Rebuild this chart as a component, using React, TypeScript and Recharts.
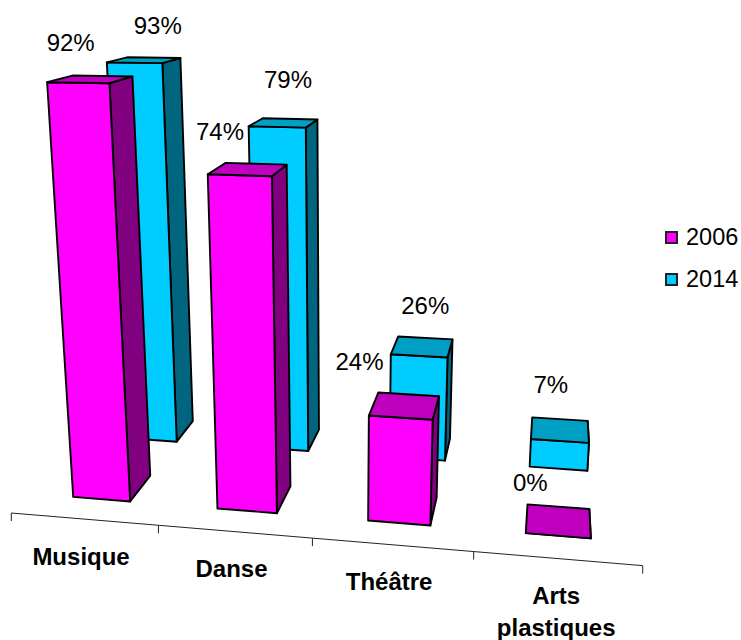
import { BarChart, Bar, XAxis, YAxis, Legend } from 'recharts';

const CATEGORIES = ['Musique', 'Danse', 'Théâtre', 'Arts plastiques'];
const VALUES_2006 = [92, 74, 24, 0];
const VALUES_2014 = [93, 79, 26, 7];

// label nudges from the top of each bar, [dx, dy] in pixels
const LABEL_NUDGE_2006 = [[-32, -33], [-36, -32], [-49, -33], [-28, -24]];
const LABEL_NUDGE_2014 = [[4, -32], [-2, -39], [0, -32], [-9, -35]];

const data = CATEGORIES.map((name, i) => ({ name, v2006: VALUES_2006[i], v2014: VALUES_2014[i] }));

const WIDTH = 741;
const HEIGHT = 640;
const AXIS_H = 40;
const BAND = 180;
const BAR_NUDGE = 1;
const PLOT_W = BAND * CATEGORIES.length;
const PLOT_H = HEIGHT - AXIS_H;
const FONT = '"Liberation Sans", Arial, sans-serif';

// camera: origin on screen plus one vanishing point for each world axis
const ORIGIN = [11.3, 513];
const VP_X = [-6500, -30];
const VP_Y = [340, 4740];
const VP_Z = [560, -50];
const LAMBDA_X = -0.0221;
const LAMBDA_Y = -0.000996;

// x in categories, y in percent, z in depth units
const project = (x: number, y: number, z: number) => {
  const wx = LAMBDA_X * x;
  const wy = LAMBDA_Y * y;
  const w = 1 + wx + wy + z;
  return [
    (ORIGIN[0] + wx * VP_X[0] + wy * VP_Y[0] + z * VP_Z[0]) / w,
    (ORIGIN[1] + wx * VP_X[1] + wy * VP_Y[1] + z * VP_Z[1]) / w,
  ];
};

const pts = (list: number[][]) => list.map(p => `${p[0]},${p[1]}`).join(' ');

const edge = { stroke: '#000', strokeWidth: 1.9, strokeLinejoin: 'round' as const };

const makeShape = (
  zFront: number,
  zBack: number,
  side: string,
  top: string,
  nudges: number[][],
) => (props: any) => {
  const { x, y, width, height, fill, index, value } = props;
  const x0 = (x + BAR_NUDGE) / BAND;
  const x1 = (x + width + BAR_NUDGE) / BAND;
  const base = (y + height - PLOT_H) / PLOT_H * -100;
  const val = (PLOT_H - y) / PLOT_H * 100;
  const frontFace = [project(x0, val, zFront), project(x1, val, zFront), project(x1, base, zFront), project(x0, base, zFront)];
  const sideFace = [project(x1, val, zFront), project(x1, val, zBack), project(x1, base, zBack), project(x1, base, zFront)];
  const topFace = [project(x0, val, zFront), project(x1, val, zFront), project(x1, val, zBack), project(x0, val, zBack)];
  const anchor = project((x0 + x1) / 2, val, zBack);
  const nudge = nudges[index];
  return (
    <g>
      <polygon points={pts(sideFace)} fill={side} {...edge} />
      <polygon points={pts(frontFace)} fill={fill} {...edge} />
      <polygon points={pts(topFace)} fill={top} {...edge} />
      <text
        x={anchor[0] + nudge[0]}
        y={anchor[1] + nudge[1]}
        textAnchor="middle"
        dominantBaseline="central"
        fontFamily={FONT}
        fontSize={24}
        fill="#000"
      >
        {value}%
      </text>
    </g>
  );
};

const AxisTick = (props: any) => {
  const { payload, index } = props;
  const left = payload.coordinate / BAND - 0.5;
  const a = project(left, 0, 0);
  const b = project(left + 1, 0, 0);
  const mid = project(left + 0.5, 0, 0);
  const lines = String(payload.value).split(' ');
  const shift = lines.length > 1 ? -1 : -3;
  return (
    <g>
      <line x1={a[0]} y1={a[1]} x2={b[0]} y2={b[1]} stroke="#222" strokeWidth={1} />
      <line x1={a[0]} y1={a[1]} x2={a[0]} y2={a[1] + 8} stroke="#222" strokeWidth={1} />
      {index === CATEGORIES.length - 1 && (
        <line x1={b[0]} y1={b[1]} x2={b[0]} y2={b[1] + 8} stroke="#222" strokeWidth={1} />
      )}
      {lines.map((line, i) => (
        <text
          key={line}
          x={mid[0] + shift}
          y={mid[1] + 37 + i * 32}
          textAnchor="middle"
          dominantBaseline="central"
          fontFamily={FONT}
          fontSize={24}
          fontWeight="bold"
          fill="#000"
        >
          {line}
        </text>
      ))}
    </g>
  );
};

const LegendBox = ({ payload }: any) => (
  <div style={{ fontFamily: FONT, fontSize: 23.5, color: '#000' }}>
    {[...(payload || [])]
      .sort((a: any, b: any) => String(a.value).localeCompare(String(b.value)))
      .map((item: any) => (
        <div key={item.value} style={{ display: 'flex', alignItems: 'center', height: 42 }}>
          <span
            style={{
              width: 9,
              height: 9,
              border: '2px solid #222',
              background: item.color,
              marginRight: 8,
            }}
          />
          {item.value}
        </div>
      ))}
  </div>
);

export default function App() {
  return (
    <div style={{ position: 'absolute', left: 0, top: 0, background: '#fff' }}>
      <BarChart
        width={WIDTH}
        height={HEIGHT}
        data={data}
        margin={{ top: 0, right: WIDTH - PLOT_W, bottom: 0, left: 0 }}
        barSize={72}
        barGap={-72}
      >
        <XAxis
          dataKey="name"
          height={AXIS_H}
          axisLine={false}
          tickLine={false}
          interval={0}
          tick={<AxisTick />}
        />
        <YAxis hide domain={[0, 100]} />
        <Legend
          layout="vertical"
          align="center"
          verticalAlign="middle"
          content={<LegendBox />}
          wrapperStyle={{ left: 665, top: 216, width: 76 }}
        />
        <Bar
          dataKey="v2014"
          name="2014"
          fill="#00CCFF"
          isAnimationActive={false}
          shape={makeShape(0.16, 0.21, '#006680', '#009FC4', LABEL_NUDGE_2014)}
        />
        <Bar
          dataKey="v2006"
          name="2006"
          fill="#FF00FF"
          isAnimationActive={false}
          shape={makeShape(0.036, 0.086, '#800080', '#BF00BF', LABEL_NUDGE_2006)}
        />
      </BarChart>
    </div>
  );
}
